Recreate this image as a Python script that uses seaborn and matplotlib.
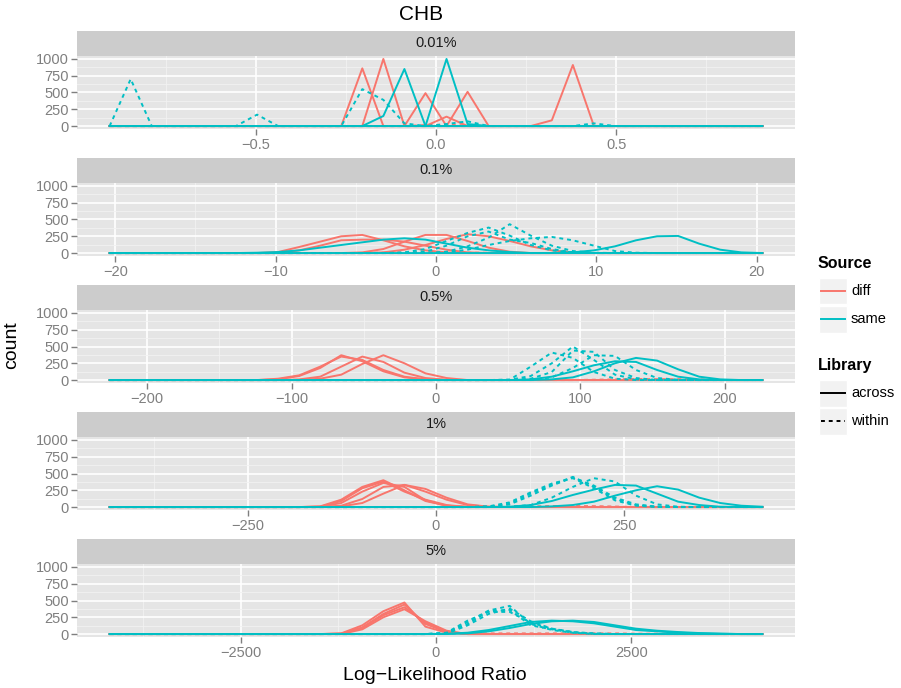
import numpy as np
import pandas as pd
import matplotlib
matplotlib.use("Agg")
import matplotlib.pyplot as plt
import seaborn as sns
from matplotlib.lines import Line2D
from matplotlib.patches import Rectangle

plt.rcParams['font.family'] = ['Liberation Sans', 'DejaVu Sans']

# facet labels and x scales (free x per panel)
panels = ["0.01%", "0.1%", "0.5%", "1%", "5%"]
half_range = [0.905, 20.35, 226, 433.5, 4180]   # outermost bin centre
n_bins = 32
x_ticks = [[-0.5, 0.0, 0.5],
           [-20, -10, 0, 10, 20],
           [-200, -100, 0, 100, 200],
           [-250, 0, 250],
           [-2500, 0, 2500]]
x_ticklabels = [["\u22120.5", "0.0", "0.5"],
                ["\u221220", "\u221210", "0", "10", "20"],
                ["\u2212200", "\u2212100", "0", "100", "200"],
                ["\u2212250", "0", "250"],
                ["\u22122500", "0", "2500"]]

# frequency polygons: (Source, Library, first bin, counts)
lines_001 = [
    ("diff", "across", 12, [860]),
    ("diff", "across", 13, [1000]),
    ("diff", "across", 15, [490]),
    ("diff", "across", 16, [140]),
    ("diff", "across", 17, [510]),
    ("diff", "across", 21, [85, 910]),
    ("diff", "within", 15, [15, 20, 10]),
    ("same", "across", 13, [150, 850]),
    ("same", "across", 16, [1000, 30]),
    ("same", "within", 1, [700]),
    ("same", "within", 7, [170]),
    ("same", "within", 12, [550, 390, 40]),
    ("same", "within", 16, [30, 70]),
    ("same", "within", 23, [40]),
]
lines_01 = [
    ("diff", "across", 8, [15, 90, 170, 250, 270, 190, 100, 40, 10]),
    ("diff", "across", 9, [40, 110, 190, 200, 200, 170, 110, 50, 10]),
    ("diff", "across", 12, [10, 60, 170, 270, 270, 180, 80, 20]),
    ("diff", "across", 13, [10, 50, 120, 210, 280, 250, 180, 100, 40, 10]),
    ("diff", "within", 13, [5, 10, 10, 10, 5, 5]),
    ("same", "across", 7, [5, 15, 40, 80, 120, 160, 200, 220, 200, 140, 80, 40, 15]),
    ("same", "across", 22, [10, 40, 100, 190, 250, 255, 140, 50, 10]),
    ("same", "within", 14, [10, 60, 180, 300, 380, 260, 120, 40, 10]),
    ("same", "within", 15, [20, 110, 250, 320, 200, 150, 60, 10]),
    ("same", "within", 16, [20, 100, 230, 430, 260, 110, 30, 5]),
    ("same", "within", 16, [10, 50, 120, 180, 220, 240, 190, 110, 30, 5]),
]
lines_05 = [
    ("diff", "across", 8, [10, 60, 180, 370, 280, 130, 40, 10]),
    ("diff", "across", 8, [20, 70, 200, 350, 300, 150, 50, 10]),
    ("diff", "across", 9, [10, 50, 200, 350, 270, 110, 30, 5]),
    ("diff", "across", 10, [20, 80, 240, 370, 250, 100, 30]),
    ("diff", "within", 23, [5, 10, 15, 10, 10, 5]),
    ("diff", "within", 25, [5, 10, 10, 5]),
    ("same", "across", 20, [10, 50, 130, 220, 280, 270, 150, 50, 10]),
    ("same", "across", 21, [10, 40, 130, 250, 330, 290, 160, 50, 10]),
    ("same", "within", 19, [5, 200, 410, 330, 120, 20]),
    ("same", "within", 19, [5, 60, 250, 500, 300, 80, 10]),
    ("same", "within", 20, [20, 120, 440, 420, 150, 30]),
    ("same", "within", 20, [5, 40, 180, 370, 360, 150, 30, 5]),
]
lines_1 = [
    ("diff", "across", 10, [10, 110, 300, 400, 250, 90, 20, 5]),
    ("diff", "across", 10, [5, 90, 280, 380, 230, 110, 30]),
    ("diff", "across", 10, [5, 60, 230, 360, 300, 100, 20]),
    ("diff", "across", 11, [20, 120, 300, 330, 230, 110, 30, 5]),
    ("diff", "across", 11, [10, 60, 200, 330, 270, 140, 40, 5]),
    ("diff", "within", 19, [5, 10, 15, 15, 10, 5]),
    ("diff", "within", 21, [5, 10, 10, 5]),
    ("same", "across", 19, [5, 30, 90, 180, 260, 330, 320, 200, 80, 30, 5]),
    ("same", "across", 21, [10, 30, 80, 170, 250, 310, 260, 140, 60, 20, 5]),
    ("same", "within", 18, [5, 50, 200, 330, 450, 300, 120, 30, 5]),
    ("same", "within", 18, [10, 70, 220, 350, 430, 280, 100, 20]),
    ("same", "within", 18, [5, 40, 170, 320, 440, 320, 140, 40, 5]),
    ("same", "within", 19, [5, 30, 140, 300, 430, 380, 170, 40, 5]),
]
lines_5 = [
    ("diff", "across", 11, [10, 130, 340, 470, 110, 20]),
    ("diff", "across", 11, [5, 100, 300, 440, 150, 30]),
    ("diff", "across", 11, [5, 90, 280, 400, 170, 40]),
    ("diff", "across", 12, [70, 250, 370, 190, 50]),
    ("diff", "within", 16, [5, 10, 10, 10, 10, 10, 10, 10, 10, 5, 5, 5]),
    ("same", "across", 16, [5, 20, 60, 120, 180, 200, 190, 160, 110, 60, 40, 20, 10, 5]),
    ("same", "across", 17, [10, 40, 90, 150, 190, 200, 180, 130, 80, 50, 30, 15, 5]),
    ("same", "within", 16, [10, 150, 340, 360, 130, 70, 20, 5]),
    ("same", "within", 16, [10, 180, 350, 420, 150, 60, 20]),
    ("same", "within", 16, [20, 200, 330, 330, 170, 80, 30, 5]),
    ("same", "within", 16, [5, 130, 300, 380, 190, 80, 30, 10]),
]
all_lines = [lines_001, lines_01, lines_05, lines_1, lines_5]

colors = {"diff": "#F8766D", "same": "#00BFC4"}

# long table: every polygon runs over the whole bin range
rows = []
for p, lines in enumerate(all_lines):
    centres = np.linspace(-half_range[p], half_range[p], n_bins)
    for j, (src, lib, start, counts) in enumerate(lines):
        full = np.zeros(n_bins)
        full[start:start + len(counts)] = counts
        for x, c in zip(centres, full):
            rows.append((panels[p], f"{p}_{j}", src, lib, x, c))
df = pd.DataFrame(rows, columns=["panel", "line", "Source", "Library", "llr", "count"])

W, H = 901, 688
fig = plt.figure(figsize=(W / 100, H / 100), dpi=100)
L, R = 77, 795
ph, sh = 73.8, 25

for k, name in enumerate(panels):
    top = 55.6 + 127 * k
    ax = fig.add_axes([L / W, 1 - (top + ph) / H, (R - L) / W, ph / H])
    st = fig.add_axes([L / W, 1 - top / H, (R - L) / W, sh / H])
    st.set_facecolor("#CCCCCC")
    st.set_xticks([]); st.set_yticks([])
    for s in st.spines.values():
        s.set_visible(False)
    st.text(0.5, 0.5, name, ha="center", va="center", fontsize=10.5, color="#1A1A1A",
            transform=st.transAxes)

    d = df[df.panel == name]
    sns.lineplot(data=d, x="llr", y="count", hue="Source", style="Library", units="line",
                 estimator=None, hue_order=["diff", "same"], style_order=["across", "within"],
                 palette=colors, dashes={"across": "", "within": (2, 2)},
                 linewidth=1.4, legend=False, ax=ax)

    ax.set_facecolor("#E5E5E5")
    for s in ax.spines.values():
        s.set_visible(False)
    xt = x_ticks[k]
    ax.set_xticks(xt)
    ax.set_xticklabels(x_ticklabels[k])
    step = xt[1] - xt[0]
    minors = [xt[0] - step / 2] + [t + step / 2 for t in xt]
    ax.set_xticks(minors, minor=True)
    ax.set_yticks([0, 250, 500, 750, 1000])
    ax.set_yticks([125, 375, 625, 875], minor=True)
    hr = half_range[k] * 1.1
    ax.set_xlim(-hr, hr)
    ax.set_ylim(-50, 1050)
    ax.grid(which="major", color="white", linewidth=1.2)
    ax.grid(which="minor", color="#F2F2F2", linewidth=0.6)
    ax.set_axisbelow(True)
    ax.tick_params(which="major", colors="#7F7F7F", labelsize=10.5, length=4, width=1, pad=2)
    ax.tick_params(which="minor", length=0)
    ax.set_xlabel("")
    ax.set_ylabel("")

fig.text(421 / W, 1 - 15 / H, "CHB", ha="center", va="center", fontsize=15)
fig.text(435 / W, 1 - 675 / H, "Log\u2212Likelihood Ratio", ha="center", va="center", fontsize=14)
fig.text(12 / W, 1 - 345 / H, "count", ha="center", va="center", rotation=90, fontsize=14)

# legend, drawn like ggplot's guide boxes
def fx(x):
    return x / W

def fy(y):
    return 1 - y / H

fig.text(fx(818), fy(263), "Source", fontweight="bold", fontsize=11.5, va="center")
fig.text(fx(818), fy(366), "Library", fontweight="bold", fontsize=11.5, va="center")
keys = [(291, colors["diff"], "-", "diff"), (319, colors["same"], "-", "same"),
        (393, "black", "-", "across"), (421, "black", (0, (2, 2)), "within")]
for y, c, ls, lab in keys:
    fig.patches.append(Rectangle((fx(819), fy(y + 13.5)), 28 / W, 27 / H,
                                 transform=fig.transFigure, facecolor="#F2F2F2",
                                 edgecolor="white", linewidth=1))
    fig.add_artist(Line2D([fx(821), fx(845)], [fy(y), fy(y)], color=c, linestyle=ls,
                          linewidth=1.4, transform=fig.transFigure))
    fig.text(fx(851), fy(y), lab, fontsize=10.5, va="center")

fig.savefig("out.png", dpi=100)
